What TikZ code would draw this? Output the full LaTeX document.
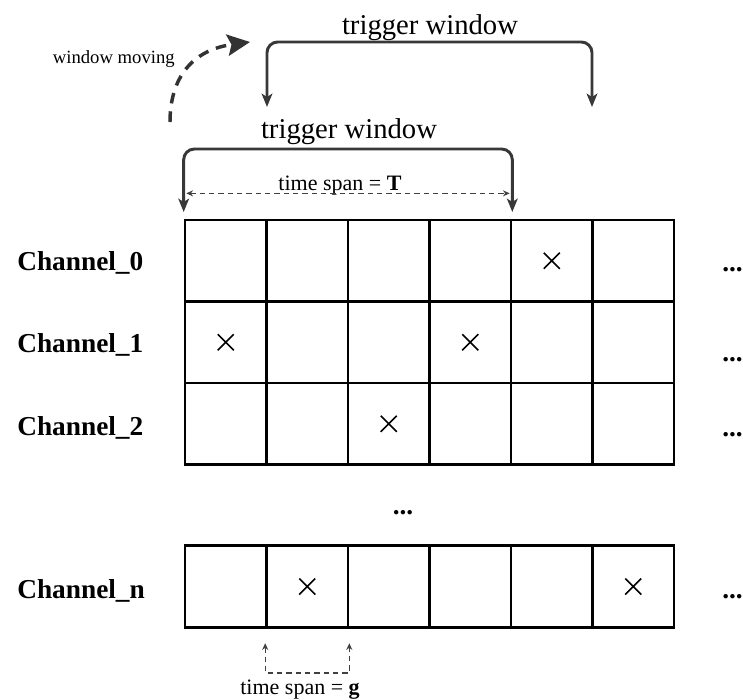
\documentclass[tikz,border=0pt]{standalone}
\usepackage{fontspec}
\setmainfont{Liberation Serif}
\usetikzlibrary{arrows.meta}
\tikzset{
  cell/.style={draw,line width=2pt,minimum size=61.1pt,inner sep=0pt},
  chlabel/.style={anchor=base west,inner sep=0pt,font=\fontsize{20.5}{24}\selectfont\bfseries},
  moredots/.style={anchor=base west,inner sep=0pt,font=\fontsize{20.5}{24}\selectfont\bfseries},
  twlabel/.style={anchor=base,inner sep=0pt,font=\fontsize{21.5}{26}\selectfont},
  spanlabel/.style={anchor=base,inner sep=0pt,font=\fontsize{16.5}{20}\selectfont},
  bracket/.style={draw=black!78,line width=2.2pt,rounded corners=8pt,
    {Stealth[length=10pt,width=8pt,inset=2.5pt]}-{Stealth[length=10pt,width=8pt,inset=2.5pt]}},
  span/.style={draw=black!75,line width=1pt,dash pattern=on 4pt off 3pt,
    {Stealth[length=5pt,width=4.5pt]}-{Stealth[length=5pt,width=4.5pt]}},
  movearrow/.style={draw=black!80,line width=2.6pt,dash pattern=on 8pt off 6pt,
    -{Stealth[length=17pt,width=16pt,inset=3pt]}},
  xmark/.style={line width=1.3pt}
}

\begin{document}
\begin{tikzpicture}[x=0.75pt,y=-0.75pt]
  \useasboundingbox (0,0) rectangle (743,700);
  \def\cw{81.5}% cell width
  \def\gx{185}% left edge of grid
  % channel grid
  \foreach \r/\yy in {0/260.75,1/342.25,2/423.75,n/586.5}{
    \foreach \c in {0,...,5}
      \node[cell] (c\r-\c) at (\gx+\cw*\c+\cw/2,\yy) {};
  }
  % hits
  \foreach \h in {c0-4,c1-0,c1-3,c2-2,cn-1,cn-5}{
    \draw[xmark] (\h.center) +(-8,-8) -- +(8,8) +(-8,8) -- +(8,-8);
  }
  % channel names
  \node[chlabel] (ch0) at (17,270) {Channel\_0};
  \node[chlabel] (ch1) at (17,352) {Channel\_1};
  \node[chlabel] (ch2) at (17,435) {Channel\_2};
  \node[chlabel] (chn) at (17,598) {Channel\_n};
  \node[moredots] (d0) at (722,271) {...};
  \node[moredots] (d1) at (722,361) {...};
  \node[moredots] (d2) at (722,436) {...};
  \node[moredots] (dn) at (722,598) {...};
  \node[moredots,anchor=base] (dmid) at (403,514) {...};
  % trigger windows
  \node[twlabel] (tw1) at (430,34) {trigger window};
  \node[twlabel] (tw2) at (349,138) {trigger window};
  \coordinate (w1l) at (267,107);
  \coordinate (w1r) at (592,107);
  \draw[bracket] (w1l) |- (430,42) -| (w1r);
  \draw[bracket] ([yshift=5pt]c0-0.north west) |- (349,149) -| ([yshift=5pt]c0-3.north east);
  % time span T
  \node[spanlabel] (spT) at (340,190) {time span = \textbf{T}};
  \draw[span] ([xshift=2pt,yshift=19pt]c0-0.north west) -- ([xshift=-2pt,yshift=19pt]c0-3.north east);
  % time span g
  \node[spanlabel] (spg) at (300,694) {time span = \textbf{g}};
  \draw[span] ([yshift=-11pt]cn-1.south west) |- (307,673) -| ([yshift=-11pt]cn-1.south east);
  % window moving
  \node[font=\fontsize{14}{17}\selectfont,anchor=base east,inner sep=0pt] (mv) at (175,63) {window moving};
  \coordinate (mv0) at (170,122);
  \coordinate (mv1) at (250,42);
  \draw[movearrow] (mv0) .. controls (170,78) and (192,50) .. (mv1);
\end{tikzpicture}
\end{document}
